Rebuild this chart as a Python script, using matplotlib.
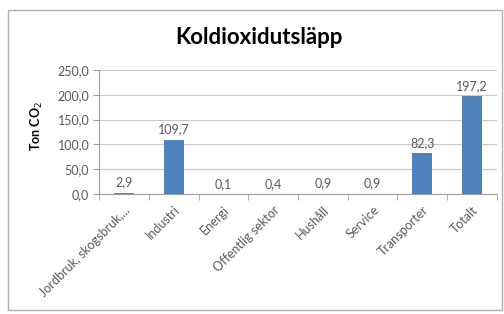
import numpy as np
import matplotlib.pyplot as plt
from matplotlib.patches import Rectangle

categories = ['Jordbruk, skogsbruk,...', 'Industri', 'Energi', 'Offentlig sektor',
              'Hushåll', 'Service', 'Transporter', 'Totalt']
values = [2.9, 109.7, 0.1, 0.4, 0.9, 0.9, 82.3, 197.2]
yticks = [0, 50, 100, 150, 200, 250]

plt.rcParams['font.family'] = ['Lato', 'DejaVu Sans']
grey = '#595959'

fig = plt.figure(figsize=(5.04, 3.14), dpi=100)
fig.patches.append(Rectangle((8 / 504, 4 / 314), 494 / 504, 300 / 314, transform=fig.transFigure,
                             fill=False, edgecolor='#b0b0b0', linewidth=1))

ax = fig.add_axes([99 / 504, 1 - 194 / 314, 398 / 504, 124 / 314])
x = np.arange(len(categories))
ax.bar(x, values, width=0.4, color='#4F81BD', zorder=3)
for xi, v in zip(x, values):
    ax.text(xi, v + 8, f'{v:.1f}'.replace('.', ','), ha='center', va='bottom',
            fontsize=9, color=grey)

ax.set_xlim(-0.5, len(categories) - 0.5)
ax.set_ylim(0, 250)
ax.set_yticks(yticks)
ax.set_yticklabels([f'{t:.1f}'.replace('.', ',') for t in yticks], fontsize=9, color=grey)
ax.grid(axis='y', color='#c8c8c8', linewidth=0.8, zorder=0)

ax.set_xticks(x)
ax.set_xticklabels(categories, rotation=45, ha='right', rotation_mode='anchor',
                   fontsize=9, color=grey)
ax.set_xticks(np.arange(-0.5, len(categories)), minor=True)
ax.tick_params(axis='x', which='major', length=0, pad=7)
ax.tick_params(axis='x', which='minor', length=4, color='#a0a0a0')
ax.tick_params(axis='y', length=4, color='#a0a0a0', pad=3)

for s in ['top', 'right']:
    ax.spines[s].set_visible(False)
ax.spines['left'].set_color('#a0a0a0')
ax.spines['bottom'].set_color('#a0a0a0')

ax.set_ylabel('Ton CO$_2$', fontsize=9, fontweight='bold', color='black', labelpad=6)
ax.yaxis.set_label_coords(-0.135, 0.55)
fig.text(259 / 504, 1 - 38 / 314, 'Koldioxidutsläpp', ha='center', va='center',
         fontsize=16, fontweight='bold')

fig.savefig('out.png', dpi=100, facecolor='white')
